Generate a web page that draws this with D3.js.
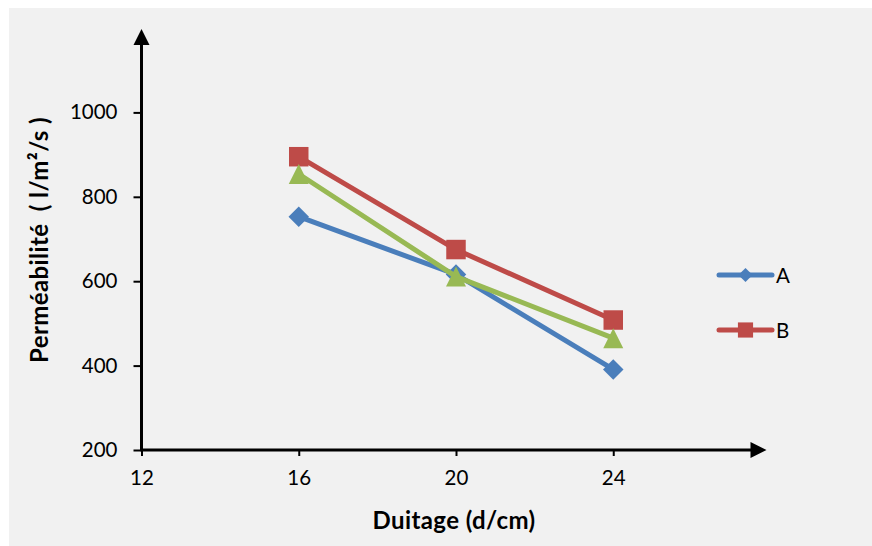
<!DOCTYPE html>
<html>
<head>
<meta charset="utf-8">
<script src="https://cdn.jsdelivr.net/npm/d3@7"></script>
<style>
  html, body { margin: 0; padding: 0; background: #ffffff; }
  svg { display: block; }
  text { font-family: Lato, "Open Sans", sans-serif; fill: #000; white-space: pre; }
</style>
</head>
<body>
<svg id="chart" width="872" height="546"></svg>
<script>
// ---- data ----
const xValues = [16, 20, 24];
const seriesNames = ["A", "B", "C"];
const seriesA = [753, 616, 391];
const seriesB = [895, 675, 508];
const seriesC = [854, 611, 465];
const yTicks = [200, 400, 600, 800, 1000];
const xTicks = [12, 16, 20, 24];
const legendNames = ["A", "B"];
const xTitle = "Duitage (d/cm)";
const yTitle = "Perméabilité  ( l/m²/s )";

// ---- layout ----
const svg = d3.select("#chart");
svg.append("rect").attr("x", 9).attr("y", 8).attr("width", 863).attr("height", 538)
  .attr("fill", "#f1f1f1");

const x = d3.scaleLinear().domain([12, 28]).range([141.5, 770.5]);
const y = d3.scaleLinear().domain([200, 1200]).range([450, 28]);

const colors = ["#4a7ebb", "#be4b48", "#98b954"];

// custom marker shapes
const diamondSym = { draw(ctx, size) { const r = Math.sqrt(size) / 2; ctx.moveTo(0, -r); ctx.lineTo(r, 0); ctx.lineTo(0, r); ctx.lineTo(-r, 0); ctx.closePath(); } };
const squareSym = { draw(ctx, size) { const r = Math.sqrt(size) / 2; ctx.rect(-r, -r, 2 * r, 2 * r); } };
const triSym = { draw(ctx, size) { const r = Math.sqrt(size) / 2; ctx.moveTo(0, -r); ctx.lineTo(r, r); ctx.lineTo(-r, r); ctx.closePath(); } };
const shapes = [diamondSym, squareSym, triSym];

// y axis
const yAxis = d3.axisLeft(y).tickValues(yTicks).tickSize(8).tickPadding(6).tickFormat(d3.format("d"));
const gy = svg.append("g").attr("transform", `translate(${x(12)},0)`).call(yAxis);
gy.select(".domain").remove();
gy.selectAll(".tick line").attr("stroke", "#000").attr("stroke-width", 2);
gy.selectAll(".tick text").attr("font-size", 20.5).attr("font-family", "Lato").attr("dx", "-10");

// x axis
const xAxis = d3.axisBottom(x).tickValues(xTicks).tickSize(6).tickPadding(14).tickFormat(d3.format("d"));
const gx = svg.append("g").attr("transform", `translate(0,${y(200)})`).call(xAxis);
gx.select(".domain").remove();
gx.selectAll(".tick line").attr("stroke", "#000").attr("stroke-width", 2);
gx.selectAll(".tick text").attr("font-size", 20.5).attr("font-family", "Lato");

// axis lines with arrows
svg.append("line").attr("x1", x(12)).attr("x2", x(12)).attr("y1", y(200) + 1).attr("y2", y(1200) + 14)
  .attr("stroke", "#000").attr("stroke-width", 3);
svg.append("path")
  .attr("d", `M${x(12)},${y(1200) + 1} L${x(12) - 8},${y(1200) + 17} L${x(12) + 8},${y(1200) + 17} Z`)
  .attr("fill", "#000");
svg.append("line").attr("x1", x(12) - 1).attr("x2", x(28) - 16).attr("y1", y(200)).attr("y2", y(200))
  .attr("stroke", "#000").attr("stroke-width", 3);
svg.append("path")
  .attr("d", `M${x(28) - 4},${y(200)} L${x(28) - 20},${y(200) - 8} L${x(28) - 20},${y(200) + 8} Z`)
  .attr("fill", "#000");

// titles
svg.append("text").attr("x", 454).attr("y", 529).attr("text-anchor", "middle")
  .attr("font-size", 24).attr("font-weight", "bold").attr("letter-spacing", 0.4).text(xTitle);
svg.append("text").attr("transform", "translate(48,240) rotate(-90)").attr("text-anchor", "middle")
  .attr("font-size", 24).attr("font-weight", "bold").attr("letter-spacing", 0.4).text(yTitle);

// series
const allSeries = [seriesA, seriesB, seriesC];
const line = d3.line().x((d, i) => x(xValues[i])).y(d => y(d));
const sizes = [420, 380, 400];
allSeries.forEach((vals, k) => {
  const g = svg.append("g");
  g.append("path").datum(vals).attr("d", line).attr("fill", "none")
    .attr("stroke", colors[k]).attr("stroke-width", 5).attr("stroke-linejoin", "round").attr("stroke-linecap", "round");
  g.selectAll("path.m").data(vals).join("path").attr("class", "m")
    .attr("transform", (d, i) => `translate(${x(xValues[i])},${y(d)})`)
    .attr("d", d3.symbol().type(shapes[k]).size(sizes[k]))
    .attr("fill", colors[k]);
});

// legend
legendNames.forEach((name, k) => {
  const ly = 275 + k * 55;
  const g = svg.append("g");
  g.append("line").attr("x1", 719).attr("x2", 772).attr("y1", ly).attr("y2", ly)
    .attr("stroke", colors[k]).attr("stroke-width", 5).attr("stroke-linecap", "round");
  g.append("path").attr("transform", `translate(745.5,${ly})`)
    .attr("d", d3.symbol().type(shapes[k]).size(k === 0 ? 200 : 230)).attr("fill", colors[k]);
  g.append("text").attr("x", 776).attr("y", ly + 7.5).attr("font-size", 20.5).text(name);
});
</script>
</body>
</html>
